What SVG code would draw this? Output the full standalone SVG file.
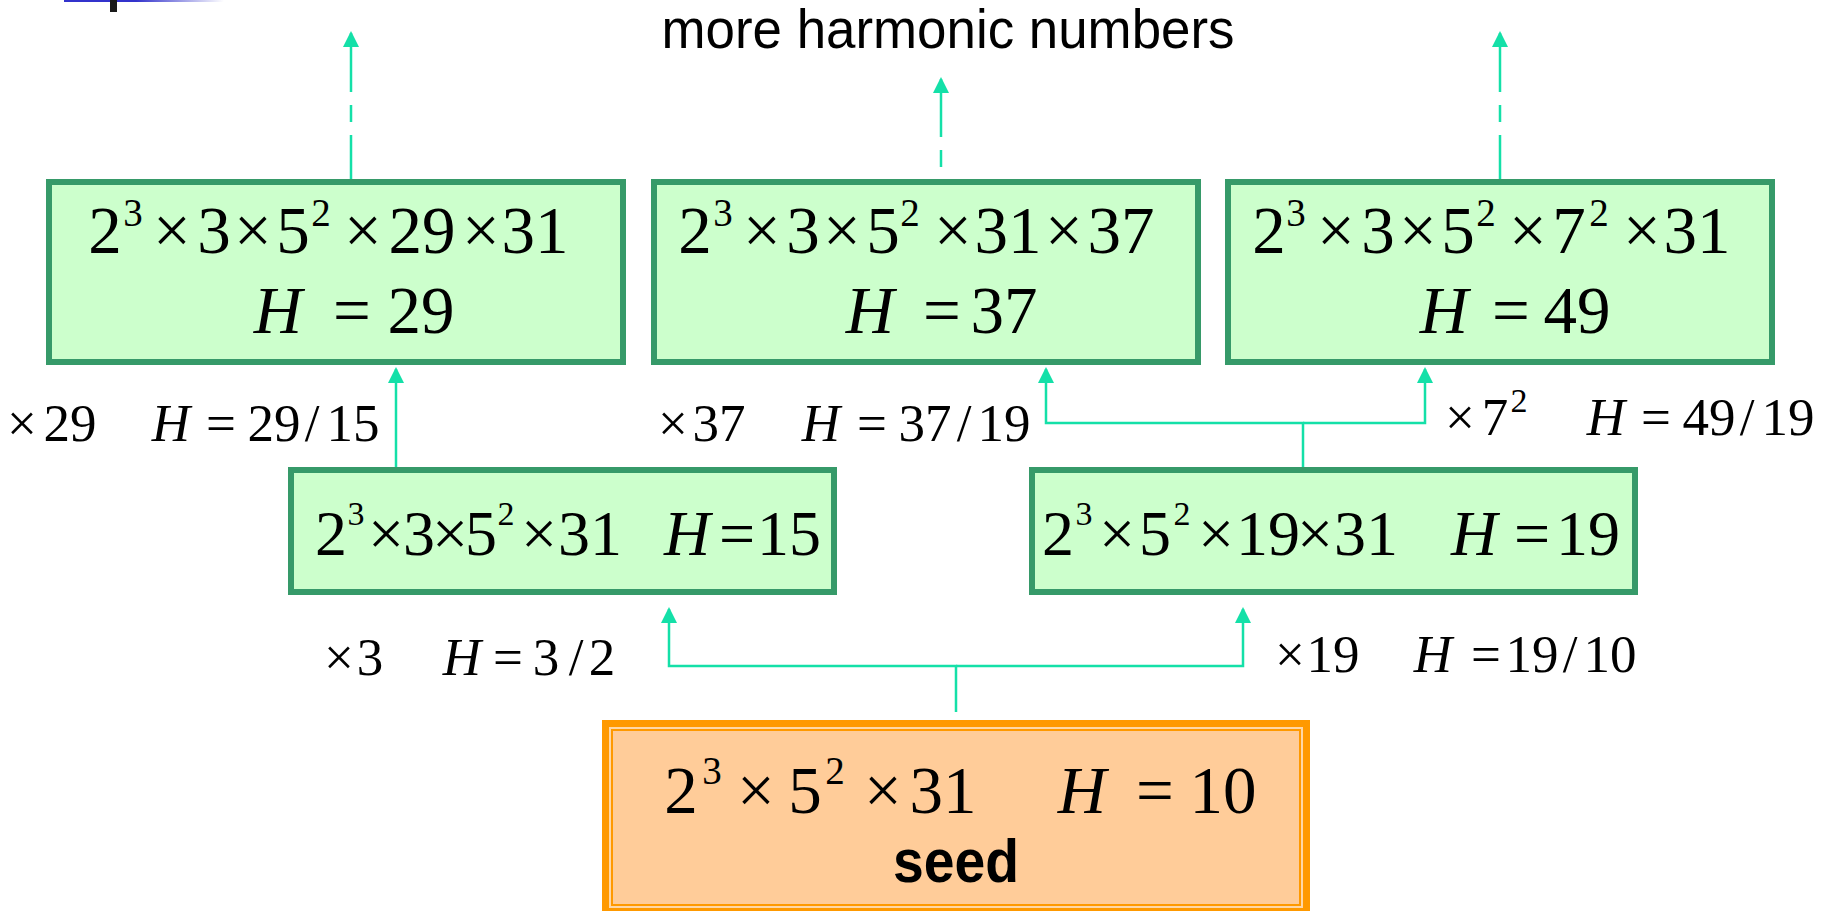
<svg xmlns="http://www.w3.org/2000/svg" width="1826" height="911" viewBox="0 0 1826 911">
<defs>
<style>
.box{fill:#CCFFCC;stroke:#369A69;stroke-width:6}
.m{font-family:"Liberation Serif","Times New Roman",serif;font-size:67px;fill:#000;text-anchor:middle}
.m4{font-size:64px}
.lb{font-family:"Liberation Serif","Times New Roman",serif;font-size:53px;fill:#000;text-anchor:middle}
.s{font-size:39px}
.s2{font-size:34px}
.i{font-style:italic}
.con{stroke:#14E0A8;stroke-width:2.5;fill:none}
.sans{font-family:"Liberation Sans",Arial,sans-serif;fill:#000;text-anchor:middle}
</style>
<marker id="ah" viewBox="0 0 16 16" markerWidth="16" markerHeight="16" refX="14" refY="8" orient="auto" markerUnits="userSpaceOnUse">
<path d="M0,0 L16,8 L0,16 z" fill="#14E0A8"/>
</marker>
<linearGradient id="bl" x1="0" y1="0" x2="1" y2="0">
<stop offset="0" stop-color="#3333CC"/>
<stop offset="0.45" stop-color="#3333CC"/>
<stop offset="1" stop-color="#FFFFFF"/>
</linearGradient>
</defs>
<rect width="1826" height="911" fill="#FFFFFF"/>
<rect x="64" y="0" width="160" height="2" fill="url(#bl)"/>
<rect x="110" y="0" width="7" height="12" fill="#1A1A1A"/>

<text class="sans" x="948" y="48" font-size="55" textLength="573" lengthAdjust="spacingAndGlyphs">more harmonic numbers</text>

<g id="connectors">
<path class="con" d="M351,92 V33" marker-end="url(#ah)"/>
<path class="con" d="M351,105 V122 M351,135 V179"/>
<path class="con" d="M941,137 V79" marker-end="url(#ah)"/>
<path class="con" d="M941,150 V167"/>
<path class="con" d="M1500,92 V33" marker-end="url(#ah)"/>
<path class="con" d="M1500,105 V122 M1500,135 V179"/>
<path class="con" d="M396,467 V369" marker-end="url(#ah)"/>
<path class="con" d="M1303,467 V423 H1046 V369" marker-end="url(#ah)"/>
<path class="con" d="M1303,423 H1425 V369" marker-end="url(#ah)"/>
<path class="con" d="M956,712 V666 H669 V609" marker-end="url(#ah)"/>
<path class="con" d="M956,666 H1243 V609" marker-end="url(#ah)"/>
</g>

<g id="labels">
<text class="lb"><tspan x="22" y="441">×</tspan><tspan x="70" y="441">29</tspan><tspan class="i" x="171" y="441">H</tspan><tspan x="221" y="441">=</tspan><tspan x="274" y="441">29</tspan><tspan x="312" y="441">/</tspan><tspan x="353" y="441">15</tspan></text>
<text class="lb"><tspan x="673" y="441">×</tspan><tspan x="719" y="441">37</tspan><tspan class="i" x="821" y="441">H</tspan><tspan x="872" y="441">=</tspan><tspan x="925" y="441">37</tspan><tspan x="964" y="441">/</tspan><tspan x="1004" y="441">19</tspan></text>
<text class="lb"><tspan x="1460" y="435">×</tspan><tspan x="1495" y="435">7</tspan><tspan class="s2" x="1519" y="412">2</tspan><tspan class="i" x="1606" y="435">H</tspan><tspan x="1656" y="435">=</tspan><tspan x="1709" y="435">49</tspan><tspan x="1747" y="435">/</tspan><tspan x="1788" y="435">19</tspan></text>
<text class="lb"><tspan x="339" y="675">×</tspan><tspan x="370" y="675">3</tspan><tspan class="i" x="462" y="675">H</tspan><tspan x="508" y="675">=</tspan><tspan x="546" y="675">3</tspan><tspan x="576" y="675">/</tspan><tspan x="602" y="675">2</tspan></text>
<text class="lb"><tspan x="1290" y="672">×</tspan><tspan x="1333" y="672">19</tspan><tspan class="i" x="1433" y="672">H</tspan><tspan x="1486" y="672">=</tspan><tspan x="1532" y="672">19</tspan><tspan x="1570" y="672">/</tspan><tspan x="1610" y="672">10</tspan></text>
</g>

<g id="node-h29">
<rect class="box" x="49" y="182" width="574" height="180"/>
<text class="m"><tspan x="105" y="253">2</tspan><tspan class="s" x="133" y="226">3</tspan><tspan x="172" y="253">×</tspan><tspan x="214" y="253">3</tspan><tspan x="253" y="253">×</tspan><tspan x="293" y="253">5</tspan><tspan class="s" x="321" y="226">2</tspan><tspan x="363" y="253">×</tspan><tspan x="422" y="253">29</tspan><tspan x="481" y="253">×</tspan><tspan x="535" y="253">31</tspan></text>
<text class="m"><tspan class="i" x="278" y="333">H</tspan><tspan x="352" y="333">=</tspan><tspan x="421" y="333">29</tspan></text>
</g>

<g id="node-h37">
<rect class="box" x="654" y="182" width="544" height="180"/>
<text class="m"><tspan x="695" y="253">2</tspan><tspan class="s" x="723" y="226">3</tspan><tspan x="762" y="253">×</tspan><tspan x="803" y="253">3</tspan><tspan x="842" y="253">×</tspan><tspan x="883" y="253">5</tspan><tspan class="s" x="910" y="226">2</tspan><tspan x="953" y="253">×</tspan><tspan x="1008" y="253">31</tspan><tspan x="1064" y="253">×</tspan><tspan x="1121" y="253">37</tspan></text>
<text class="m"><tspan class="i" x="870" y="333">H</tspan><tspan x="942" y="333">=</tspan><tspan x="1004" y="333">37</tspan></text>
</g>

<g id="node-h49">
<rect class="box" x="1228" y="182" width="544" height="180"/>
<text class="m"><tspan x="1269" y="253">2</tspan><tspan class="s" x="1296" y="226">3</tspan><tspan x="1336" y="253">×</tspan><tspan x="1378" y="253">3</tspan><tspan x="1418" y="253">×</tspan><tspan x="1458" y="253">5</tspan><tspan class="s" x="1486" y="226">2</tspan><tspan x="1528" y="253">×</tspan><tspan x="1569" y="253">7</tspan><tspan class="s" x="1599" y="226">2</tspan><tspan x="1642" y="253">×</tspan><tspan x="1697" y="253">31</tspan></text>
<text class="m"><tspan class="i" x="1444" y="333">H</tspan><tspan x="1511" y="333">=</tspan><tspan x="1577" y="333">49</tspan></text>
</g>

<g id="node-h15">
<rect class="box" x="291" y="470" width="543" height="122"/>
<text class="m m4"><tspan x="331" y="555">2</tspan><tspan class="s2" x="356" y="525">3</tspan><tspan x="386" y="555">×</tspan><tspan x="419" y="555">3</tspan><tspan x="450" y="555">×</tspan><tspan x="481" y="555">5</tspan><tspan class="s2" x="506" y="525">2</tspan><tspan x="539" y="555">×</tspan><tspan x="590" y="555">31</tspan><tspan class="i" x="687" y="555">H</tspan><tspan x="737" y="555">=</tspan><tspan x="789" y="555">15</tspan></text>
</g>

<g id="node-h19">
<rect class="box" x="1032" y="470" width="603" height="122"/>
<text class="m m4"><tspan x="1058" y="555">2</tspan><tspan class="s2" x="1084" y="525">3</tspan><tspan x="1117" y="555">×</tspan><tspan x="1155" y="555">5</tspan><tspan class="s2" x="1182" y="525">2</tspan><tspan x="1216" y="555">×</tspan><tspan x="1268" y="555">19</tspan><tspan x="1315" y="555">×</tspan><tspan x="1366" y="555">31</tspan><tspan class="i" x="1474" y="555">H</tspan><tspan x="1532" y="555">=</tspan><tspan x="1588" y="555">19</tspan></text>
</g>

<g id="node-seed">
<rect x="602" y="720" width="708" height="195" fill="#FF9900"/>
<rect x="609" y="727" width="694" height="181" fill="#FFD7A6"/>
<rect x="611" y="729" width="690" height="177" fill="#FF9900"/>
<rect x="613" y="731" width="686" height="173" fill="#FFCC99"/>
<text class="m"><tspan x="681" y="813">2</tspan><tspan class="s" x="712" y="784">3</tspan><tspan x="756" y="813">×</tspan><tspan x="805" y="813">5</tspan><tspan class="s" x="835" y="784">2</tspan><tspan x="883" y="813">×</tspan><tspan x="943" y="813">31</tspan><tspan class="i" x="1082" y="813">H</tspan><tspan x="1155" y="813">=</tspan><tspan x="1223" y="813">10</tspan></text>
<text class="sans" x="956" y="882" font-size="62" font-weight="bold" textLength="126" lengthAdjust="spacingAndGlyphs">seed</text>
</g>
</svg>
